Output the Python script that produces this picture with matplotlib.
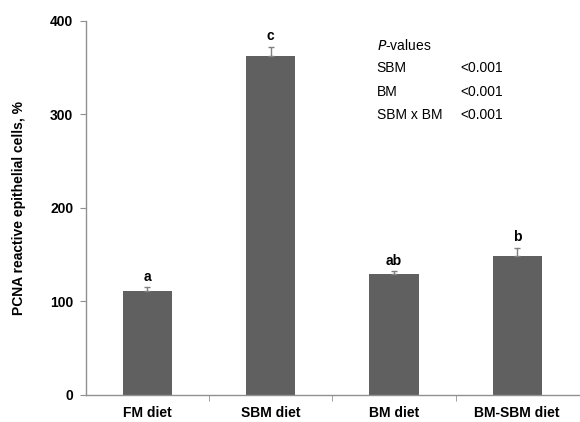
import matplotlib
matplotlib.use("Agg")
import matplotlib.pyplot as plt
import numpy as np

diets = ["FM diet", "SBM diet", "BM diet", "BM-SBM diet"]
pcna = [111, 362, 129, 148]
sem = [4, 10, 3, 9]
letters = ["a", "c", "ab", "b"]
p_terms = ["SBM", "BM", "SBM x BM"]
p_vals = ["<0.001", "<0.001", "<0.001"]

plt.rcParams['font.family'] = ['Liberation Sans', 'DejaVu Sans']

fig = plt.figure(figsize=(5.8, 4.22), dpi=100)
ax = fig.add_axes([0.148, 0.064, 0.85, 0.887])

x = np.arange(len(diets))
ax.bar(x, pcna, width=0.4, color="#606060", zorder=2)
ax.errorbar(x, pcna, yerr=[np.zeros(len(sem)), sem], fmt="none",
            ecolor="#808080", elinewidth=1, capsize=2.5, capthick=1, zorder=3)
for xi, v, e, lab in zip(x, pcna, sem, letters):
    ax.text(xi, v + e + 4, lab, ha="center", va="bottom",
            fontsize=10, fontweight="bold")

ax.set_xlim(-0.5, 3.5)
ax.set_ylim(0, 400)
ax.set_yticks([0, 100, 200, 300, 400])
ax.set_xticks(x)
ax.set_xticklabels(diets, fontsize=10, fontweight="bold")
ax.set_xticks(x[:-1] + 0.5, minor=True)
ax.tick_params(axis="x", which="major", length=0, pad=8)
ax.tick_params(axis="x", which="minor", length=4, color="#909090", direction="out")
ax.tick_params(axis="y", length=4, color="#909090", labelsize=10, pad=5)
for t in ax.get_yticklabels():
    t.set_fontweight("bold")

for s in ["top", "right"]:
    ax.spines[s].set_visible(False)
for s in ["left", "bottom"]:
    ax.spines[s].set_color("#909090")
    ax.spines[s].set_linewidth(1)

ax.set_ylabel("PCNA reactive epithelial cells, %", fontsize=10,
              fontweight="bold", labelpad=17)

# P-value table
ax.text(1.86, 374, "$P$-values", fontsize=10, va="center")
for i, (term, pv) in enumerate(zip(p_terms, p_vals)):
    yy = 349 - i * 25
    ax.text(1.86, yy, term, fontsize=10, va="center")
    ax.text(2.54, yy, pv, fontsize=10, va="center")

fig.savefig("out.png", dpi=100)
